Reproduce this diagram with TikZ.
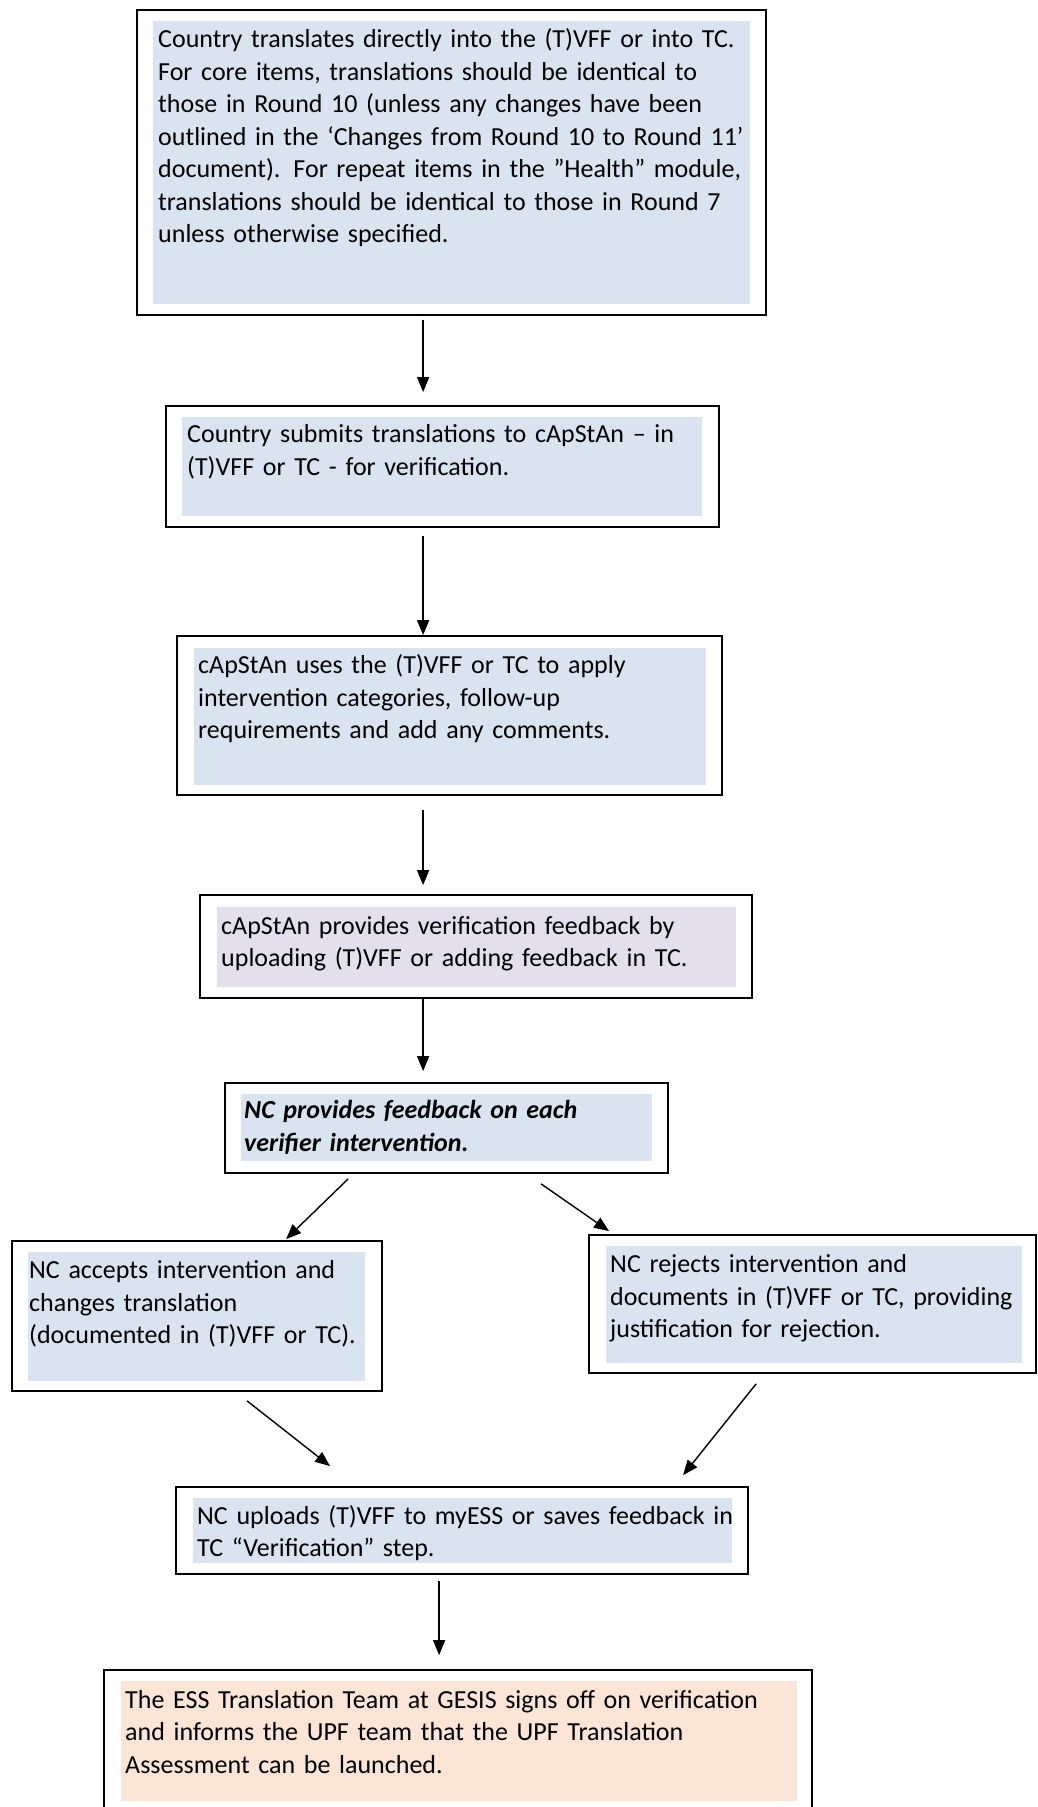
\documentclass[tikz,border=0pt]{standalone}
\usepackage{fontspec}
\setmainfont{Carlito}
\usetikzlibrary{arrows.meta,calc}
\definecolor{fillblue}{HTML}{DAE3F0}
\definecolor{fillpurple}{HTML}{E4DFEC}
\definecolor{fillpeach}{HTML}{FBE5D6}
\tikzset{
  obox/.style={draw=black, line width=1.8pt, rectangle, inner sep=0pt, fill=none},
  txt/.style={anchor=base west, inner sep=0pt, align=left, text width=#1,
              font=\fontsize{26}{32.5}\selectfont},
  arr/.style={line width=1.4pt, -{Triangle[length=15pt,width=12pt]}},
}
\begin{document}
\begin{tikzpicture}[x=1pt,y=-1pt]
\clip (0,0) rectangle (1037,1807);
\fill[white] (0,0) rectangle (1037,1807);

% Box 1
\fill[fillblue] (153,21) rectangle (750,304);
\node[obox, minimum width=629pt, minimum height=305pt] (b1) at (451.5,162.5) {};
\node[txt=600pt] (t1) at (158,47.5) {Country translates directly into the (T)VFF or into TC.\\
For core items, translations should be identical to\\
those in Round 10 (unless any changes have been\\
outlined in the ‘Changes from Round 10 to Round 11’\\
document). For repeat items in the ”Health” module,\\
translations should be identical to those in Round 7\\
unless otherwise specified.};

% Box 2
\fill[fillblue] (182,417) rectangle (702,516);
\node[obox, minimum width=553pt, minimum height=121pt] (b2) at (442.5,466.5) {};
\node[txt=530pt] (t2) at (187,442.5) {Country submits translations to cApStAn – in\\
(T)VFF or TC - for verification.};

% Box 3
\fill[fillblue] (194,648) rectangle (706,785);
\node[obox, minimum width=545pt, minimum height=159pt] (b3) at (449.5,715.5) {};
\node[txt=520pt] (t3) at (198,673.5) {cApStAn uses the (T)VFF or TC to apply\\
intervention categories, follow-up\\
requirements and add any comments.};

% Box 4
\fill[fillpurple] (217,907) rectangle (736,987);
\node[obox, minimum width=552pt, minimum height=103pt] (b4) at (476,946.5) {};
\node[txt=530pt] (t4) at (221,934) {cApStAn provides verification feedback by\\
uploading (T)VFF or adding feedback in TC.};

% Box 5
\fill[fillblue] (241,1094) rectangle (652,1161);
\node[obox, minimum width=443pt, minimum height=90pt] (b5) at (446.5,1128) {};
\node[txt=420pt, font=\fontsize{26}{32.5}\selectfont\bfseries\itshape] (t5) at (244,1118.5) {NC provides feedback on each\\
verifier intervention.};

% Box 6
\fill[fillblue] (28,1252) rectangle (365,1381);
\node[obox, minimum width=370pt, minimum height=150pt] (b6) at (197,1316) {};
\node[txt=350pt] (t6) at (29,1278.5) {NC accepts intervention and\\
changes translation\\
(documented in (T)VFF or TC).};

% Box 7
\fill[fillblue] (606,1246) rectangle (1022,1363);
\node[obox, minimum width=447pt, minimum height=138pt] (b7) at (812.5,1304) {};
\node[txt=425pt] (t7) at (610,1272.5) {NC rejects intervention and\\
documents in (T)VFF or TC, providing\\
justification for rejection.};

% Box 8
\fill[fillblue] (193,1498) rectangle (732,1563);
\node[obox, minimum width=572pt, minimum height=87pt] (b8) at (462,1530.5) {};
\node[txt=550pt] (t8) at (197,1524) {NC uploads (T)VFF to myESS or saves feedback in\\
TC “Verification” step.};

% Box 9
\fill[fillpeach] (121,1681) rectangle (797,1801);
\node[obox, minimum width=708pt, minimum height=150pt] (b9) at (458,1745) {};
\node[txt=690pt] (t9) at (125,1708) {The ESS Translation Team at GESIS signs off on verification\\
and informs the UPF team that the UPF Translation\\
Assessment can be launched.};

% Arrows
\draw[arr] ($(b1.south west)+(287,4)$) -- ($(b2.north west)+(258,-13)$);
\draw[arr] ($(b2.south west)+(258,8)$) -- ($(b3.north west)+(247,0)$);
\draw[arr] ($(b3.south west)+(247,14)$) -- ($(b4.north west)+(224,-9)$);
\draw[arr] ($(b4.south west)+(224,0)$) -- ($(b5.north west)+(199,-11)$);
\draw[arr] ($(b5.south west)+(124,5)$) -- ($(b6.north west)+(275,-1)$);
\draw[arr] ($(b5.south west)+(317,10)$) -- ($(b7.north west)+(21,-3)$);
\draw[arr] ($(b6.south west)+(236,9)$) -- ($(b8.north west)+(155,-20)$);
\draw[arr] ($(b7.south west)+(168,10)$) -- ($(b8.north west)+(508,-11)$);
\draw[arr] ($(b8.south west)+(264,6)$) -- ($(b9.north west)+(336,-14)$);
\end{tikzpicture}
\end{document}
